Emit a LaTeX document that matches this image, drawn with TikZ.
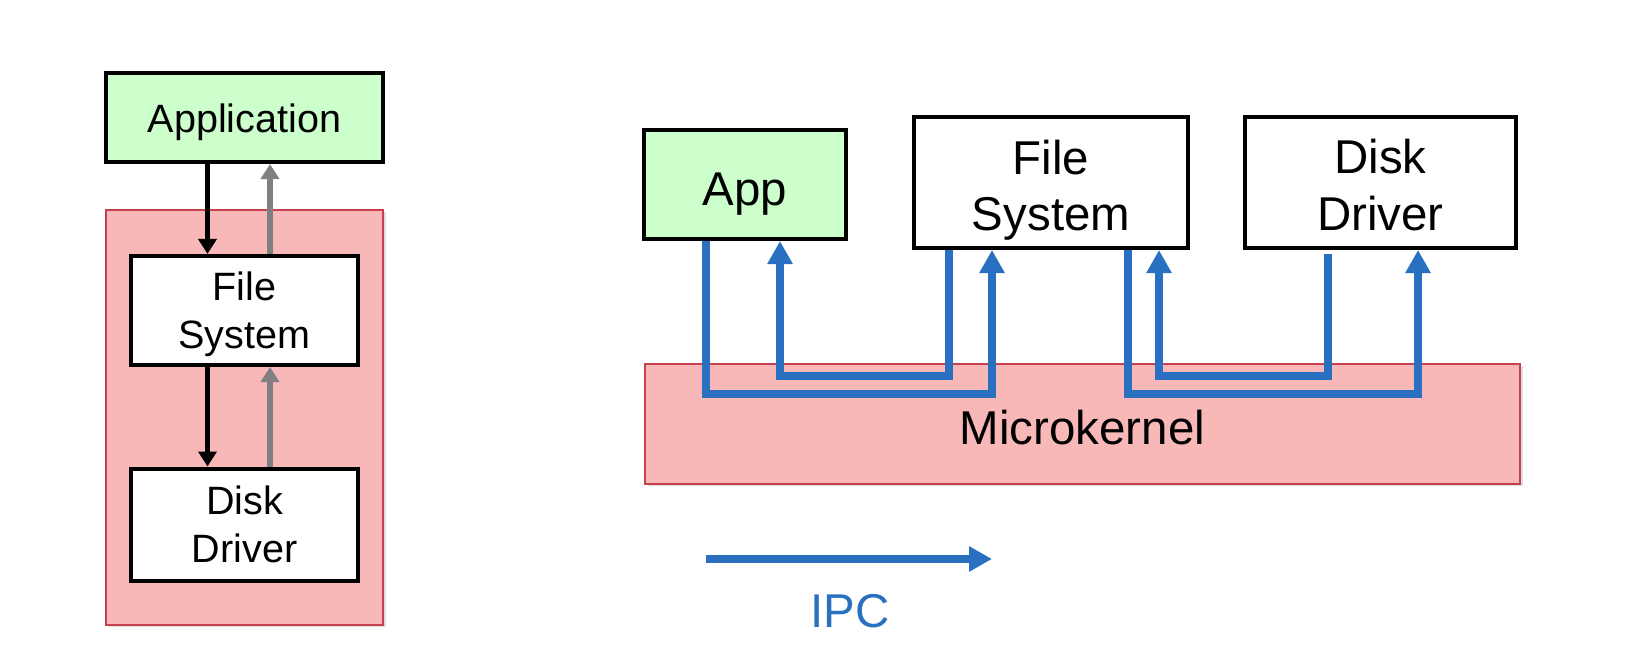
\documentclass[tikz,border=0pt]{standalone}
\usepackage{fontspec}
\setmainfont{Liberation Sans}
\usepackage{tikz}
\usepackage{xcolor}
\usetikzlibrary{positioning, arrows.meta, shadows}
\definecolor{appgreen}{HTML}{CCFFCC}
\definecolor{kernpink}{HTML}{F8B8B8}
\definecolor{kernred}{HTML}{C84050}
\definecolor{ipcblue}{HTML}{2A70C0}
\tikzstyle{box} = [rectangle, draw=black, line width=2.3pt, fill=white, text centered, align=center, inner sep=0pt]
\tikzstyle{kern} = [rectangle, draw=kernred, line width=0.8pt, fill=kernpink, inner sep=0pt, drop shadow={opacity=0.25, shadow xshift=0.05cm, shadow yshift=-0.05cm}]
\tikzstyle{ipc} = [draw=ipcblue, line width=4.3pt, -{Triangle[width=0.48cm,length=0.46cm]}]
\tikzstyle{callarrow} = [draw=black, line width=3pt, -{Triangle[width=0.36cm,length=0.3cm]}]
\tikzstyle{retarrow} = [draw=gray, line width=3pt, -{Triangle[width=0.36cm,length=0.3cm]}]

\begin{document}
\begin{tikzpicture}[every node/.style={font=\fontsize{22.5}{27}\selectfont}]
	\useasboundingbox (0,0) rectangle (32.82,13.2);
	% monolithic kernel
	\node[kern, minimum width=5.54cm, minimum height=8.3cm] (monok) at (4.89,4.85) {};
	\node[box, fill=appgreen, minimum width=5.54cm, minimum height=1.78cm, text height=22pt, text depth=4.7pt] (appl) at (4.89,10.85) {Application};
	\node[box, minimum width=4.54cm, minimum height=2.18cm, text height=47.7pt, text depth=4.7pt] (fsl) at (4.89,6.99) {File\\System};
	\node[box, minimum width=4.54cm, minimum height=2.24cm, below=1.99cm of fsl] (ddl) {Disk\\Driver};
	\draw[callarrow] ([xshift=-0.74cm]appl.south) -- ([xshift=-0.74cm]fsl.north);
	\draw[retarrow] ([xshift=0.51cm]fsl.north) -- ([xshift=0.51cm]appl.south);
	\draw[callarrow] ([xshift=-0.74cm]fsl.south) -- ([xshift=-0.74cm]ddl.north);
	\draw[retarrow] ([xshift=0.51cm]ddl.north) -- ([xshift=0.51cm]fsl.south);

	% microkernel
	\begin{scope}[every node/.style={font=\fontsize{27}{32.2}\selectfont}]
		\node[kern, minimum width=17.5cm, minimum height=2.4cm, text height=23.1pt, text depth=0pt] (mk) at (21.65,4.72) {Microkernel};
		\node[box, fill=appgreen, minimum width=4.04cm, minimum height=2.18cm, text height=29.5pt, text depth=5.7pt] (app) at (14.9,9.51) {App};
		\node[box, minimum width=5.48cm, minimum height=2.62cm, text height=60.5pt, text depth=5.7pt] (fs) at (21.02,9.55) {File\\System};
		\node[box, minimum width=5.42cm, minimum height=2.62cm, text height=54.3pt, text depth=0pt, right=1.06cm of fs] (dd) {Disk\\Driver};
		\draw[ipc] ([xshift=-0.78cm]app.south) -- ++(0,-3.06) -| ([xshift=-1.18cm]fs.south);
		\draw[ipc] ([xshift=-2.04cm]fs.south) -- ++(0,-2.52) -| ([xshift=0.7cm]app.south);
		\draw[ipc] ([xshift=1.54cm]fs.south) -- ++(0,-2.88) -| ([xshift=0.75cm]dd.south);
		\draw[ipc] ([xshift=-1.05cm,yshift=-0.08cm]dd.south) -- ++(0,-2.44) -| ([xshift=2.16cm]fs.south);

		% legend
		\coordinate (ipcA) at (14.12,2.02);
		\coordinate (ipcB) at (19.84,2.02);
		\draw[ipc] (ipcA) -- (ipcB);
		\node[text=ipcblue] (ipclbl) at (17.0,0.98) {IPC};
	\end{scope}
\end{tikzpicture}
\end{document}
